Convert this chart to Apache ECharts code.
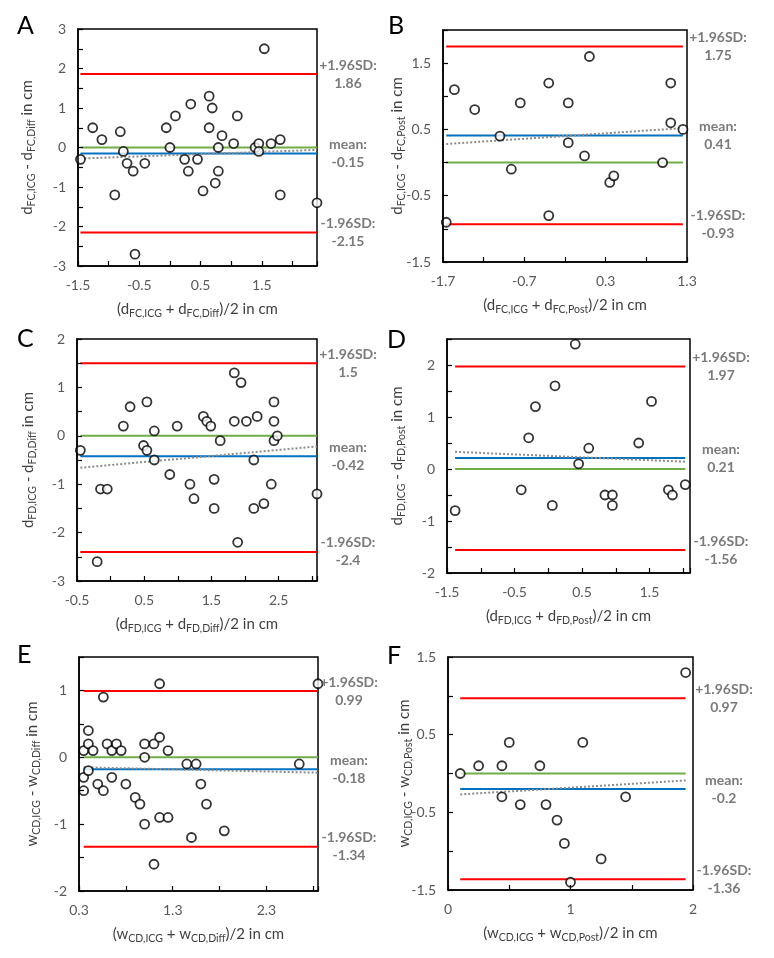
<!DOCTYPE html>
<html>
<head>
<meta charset="utf-8">
<script src="https://cdn.jsdelivr.net/npm/echarts@6/dist/echarts.min.js"></script>
<style>
  html, body { margin: 0; padding: 0; background: #fff; }
  #chart { width: 774px; height: 958px; }
</style>
</head>
<body>
<div id="chart"></div>
<script>
// Bland-Altman plots, six panels A-F. Points are [mean, difference] in cm.
const pointsA = [[-1.46, -0.3], [-1.26, 0.5], [-1.11, 0.2], [-0.9, -1.2], [-0.81, 0.4], [-0.76, -0.1], [-0.7, -0.4], [-0.6, -0.6], [-0.57, -2.7], [-0.41, -0.4], [-0.06, 0.5], [0, 0], [0.09, 0.8], [0.24, -0.3], [0.3, -0.6], [0.34, 1.1], [0.45, -0.3], [0.54, -1.1], [0.64, 1.3], [0.64, 0.5], [0.69, 1.0], [0.74, -0.9], [0.79, 0], [0.79, -0.6], [0.85, 0.3], [1.04, 0.1], [1.1, 0.8], [1.39, 0], [1.45, 0.1], [1.45, -0.1], [1.54, 2.5], [1.65, 0.1], [1.8, 0.2], [1.8, -1.2], [2.4, -1.4]]
const pointsB = [[-1.66, -0.9], [-1.56, 1.1], [-1.31, 0.8], [-1.0, 0.4], [-0.86, -0.1], [-0.75, 0.9], [-0.4, 1.2], [-0.4, -0.8], [-0.16, 0.9], [-0.16, 0.3], [0.04, 0.1], [0.1, 1.6], [0.35, -0.3], [0.4, -0.2], [1.0, 0], [1.1, 1.2], [1.1, 0.6], [1.25, 0.5]]
const pointsC = [[-0.45, -0.3], [-0.2, -2.6], [-0.15, -1.1], [-0.05, -1.1], [0.19, 0.2], [0.29, 0.6], [0.49, -0.2], [0.54, 0.7], [0.54, -0.3], [0.65, 0.1], [0.65, -0.5], [0.88, -0.8], [0.99, 0.2], [1.18, -1.0], [1.24, -1.3], [1.38, 0.4], [1.43, 0.3], [1.49, 0.2], [1.54, -0.9], [1.54, -1.5], [1.63, -0.1], [1.84, 1.3], [1.84, 0.3], [1.89, -2.2], [1.94, 1.1], [2.02, 0.3], [2.13, -0.5], [2.13, -1.5], [2.18, 0.4], [2.28, -1.4], [2.39, -1.0], [2.43, 0.7], [2.43, 0.3], [2.43, -0.1], [2.48, 0], [3.07, -1.2]]
const pointsD = [[-1.38, -0.8], [-0.4, -0.4], [-0.29, 0.6], [-0.19, 1.2], [0.06, -0.7], [0.1, 1.6], [0.4, 2.4], [0.45, 0.1], [0.6, 0.4], [0.84, -0.5], [0.95, -0.5], [0.95, -0.7], [1.34, 0.5], [1.53, 1.3], [1.78, -0.4], [1.84, -0.5], [2.03, -0.3]]
const pointsE = [[0.35, 0.1], [0.35, -0.3], [0.35, -0.5], [0.4, 0.4], [0.4, 0.2], [0.4, -0.2], [0.45, 0.1], [0.5, -0.4], [0.56, 0.9], [0.56, -0.5], [0.6, 0.2], [0.65, 0.1], [0.65, -0.3], [0.7, 0.2], [0.75, 0.1], [0.8, -0.4], [0.9, -0.6], [0.95, -0.7], [1.0, 0.2], [1.0, 0], [1.0, -1.0], [1.1, 0.2], [1.1, -1.6], [1.16, 1.1], [1.16, 0.3], [1.16, -0.9], [1.25, 0.1], [1.25, -0.9], [1.45, -0.1], [1.5, -1.2], [1.55, -0.1], [1.6, -0.4], [1.66, -0.7], [1.85, -1.1], [2.65, -0.1], [2.85, 1.1]]
const pointsF = [[0.1, 0], [0.25, 0.1], [0.44, 0.1], [0.44, -0.3], [0.5, 0.4], [0.59, -0.4], [0.75, 0.1], [0.8, -0.4], [0.89, -0.6], [0.95, -0.9], [1.0, -1.4], [1.1, 0.4], [1.25, -1.1], [1.45, -0.3], [1.94, 1.3]]

const panelLetters = ['A', 'B', 'C', 'D', 'E', 'F']
const xRanges = [[-1.5, 2.4], [-1.7, 1.3], [-0.5, 3.07], [-1.5, 2.1], [0.3, 2.85], [0, 2]]
const yRanges = [[-3, 3], [-1.5, 2], [-3, 2], [-2, 2.5], [-2, 1.5], [-1.5, 1.5]]

// limits of agreement and mean difference
const upperLoA = [1.86, 1.75, 1.5, 1.97, 0.99, 0.97]
const meanDiff = [-0.15, 0.41, -0.42, 0.21, -0.18, -0.2]
const lowerLoA = [-2.15, -0.93, -2.4, -1.56, -1.34, -1.36]
// dotted trend line: difference at the first and at the last point
const trendEnds = [[-0.28, -0.06], [0.28, 0.52], [-0.66, -0.22], [0.33, 0.14], [-0.15, -0.23], [-0.27, -0.09]]

const yNames = [
  'd{s|FC,ICG} - d{s|FC,Diff} in cm',
  'd{s|FC,ICG} - d{s|FC,Post} in cm',
  'd{s|FD,ICG} - d{s|FD,Diff} in cm',
  'd{s|FD,ICG} - d{s|FD,Post} in cm',
  'w{s|CD,ICG} - w{s|CD,Diff} in cm',
  'w{s|CD,ICG} - w{s|CD,Post} in cm'
]
const xNames = [
  '(d{s|FC,ICG} + d{s|FC,Diff})/2 in cm',
  '(d{s|FC,ICG} + d{s|FC,Post})/2 in cm',
  '(d{s|FD,ICG} + d{s|FD,Diff})/2 in cm',
  '(d{s|FD,ICG} + d{s|FD,Post})/2 in cm',
  '(w{s|CD,ICG} + w{s|CD,Diff})/2 in cm',
  '(w{s|CD,ICG} + w{s|CD,Post})/2 in cm'
]

const points = [pointsA, pointsB, pointsC, pointsD, pointsE, pointsF]

const font = 'Lato, "Open Sans", sans-serif'
const grids = [
  { left: 78, top: 29, width: 239, height: 237 },
  { left: 443, top: 30, width: 244, height: 232 },
  { left: 77, top: 339, width: 240, height: 242 },
  { left: 447, top: 339, width: 243, height: 234 },
  { left: 79, top: 657, width: 239, height: 234 },
  { left: 448, top: 657, width: 245, height: 233 }
]
const yNameGaps = [41, 36, 39, 40, 37, 34]
const letterPos = [[12, 8], [383, 8], [12, 321], [382, 322], [12, 637], [382, 638]]

const nameStyle = {
  fontFamily: font,
  fontSize: 15,
  color: '#404040',
  lineHeight: 20,
  rich: {
    s: { fontFamily: font, fontSize: 10.5, color: '#404040', lineHeight: 10, verticalAlign: 'bottom' }
  }
}

function axisBase(range, gridIndex) {
  const span = range[1] - range[0]
  const maxIsTick = Math.abs(span - Math.round(span)) < 1e-6
  return {
    type: 'value',
    gridIndex: gridIndex,
    min: range[0],
    max: range[1],
    interval: 1,
    z: 10,
    splitLine: { show: false },
    axisLine: { show: true, onZero: false, lineStyle: { color: '#000', width: 1.5 } },
    axisTick: { show: true, inside: true, length: 5, lineStyle: { color: '#000', width: 1.2 } },
    minorTick: { show: true, splitNumber: 2, length: 5, lineStyle: { color: '#000', width: 1.2 } },
    axisLabel: {
      fontFamily: font, fontSize: 14, color: '#595959', margin: 12,
      showMinLabel: true, showMaxLabel: maxIsTick
    },
    nameLocation: 'middle',
    nameMoveOverlap: false,
    nameTextStyle: nameStyle
  }
}

const option = {
  animation: false,
  backgroundColor: '#fff',
  title: panelLetters.map((t, i) => ({
    text: t, left: letterPos[i][0], top: letterPos[i][1],
    textStyle: { fontFamily: font, fontSize: 25, fontWeight: 'normal', color: '#000' }
  })),
  grid: grids.map(g => Object.assign({ show: true, borderColor: '#000', borderWidth: 1.5 }, g)),
  xAxis: xRanges.map((r, i) => Object.assign(axisBase(r, i), { name: xNames[i], nameGap: 33 })),
  yAxis: yRanges.map((r, i) => Object.assign(axisBase(r, i), { name: yNames[i], nameGap: yNameGaps[i] })),
  series: []
}

points.forEach((pts, i) => {
  const xs = pts.map(p => p[0])
  const x0 = Math.min(...xs)
  const x1 = Math.max(...xs)
  const hLine = (v, color, z) => ({
    type: 'line', xAxisIndex: i, yAxisIndex: i, silent: true, symbol: 'none', z: z,
    data: [[x0, v], [x1, v]],
    lineStyle: { color: color, width: 2 }
  })
  option.series.push(hLine(0, '#70AD47', 2))
  option.series.push(hLine(upperLoA[i], '#FF0000', 2))
  option.series.push(hLine(lowerLoA[i], '#FF0000', 2))
  option.series.push(hLine(meanDiff[i], '#0070C0', 3))
  option.series.push({
    type: 'line', xAxisIndex: i, yAxisIndex: i, silent: true, symbol: 'none', z: 4,
    data: [[x0, trendEnds[i][0]], [x1, trendEnds[i][1]]],
    lineStyle: { color: '#8C8C8C', width: 2, type: [2, 2] }
  })
  option.series.push({
    type: 'scatter', xAxisIndex: i, yAxisIndex: i, silent: true, z: 5,
    data: pts,
    symbol: 'circle', symbolSize: 9,
    itemStyle: { color: '#fff', borderColor: '#000', borderWidth: 1.8 }
  })
  const xEnd = xRanges[i][1]
  option.series.push({
    type: 'scatter', xAxisIndex: i, yAxisIndex: i, silent: true, z: 6,
    symbolSize: 1,
    itemStyle: { color: 'rgba(0,0,0,0)' },
    data: [
      { value: [xEnd, upperLoA[i]], name: '+1.96SD:\n' + upperLoA[i] },
      { value: [xEnd, meanDiff[i]], name: 'mean:\n' + meanDiff[i] },
      { value: [xEnd, lowerLoA[i]], name: '-1.96SD:\n' + lowerLoA[i] }
    ],
    label: {
      show: true, position: 'inside', offset: [31, 0], formatter: '{b}',
      align: 'center', verticalAlign: 'middle',
      fontFamily: font, fontSize: 14, fontWeight: 'bold', color: '#595959', lineHeight: 18
    }
  })
})

const chart = echarts.init(document.getElementById('chart'))
chart.setOption(option)
</script>
</body>
</html>
